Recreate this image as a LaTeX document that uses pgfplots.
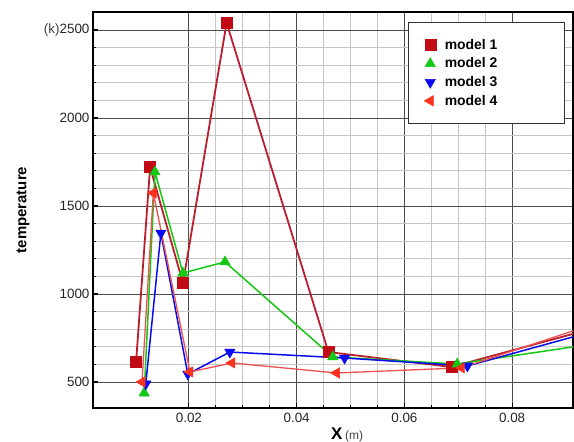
\documentclass[border=0pt]{standalone}
\usepackage{pgfplots}
\pgfplotsset{compat=1.18}
\usepackage{fontspec}
\setmainfont{Liberation Sans}
\definecolor{mone}{RGB}{192,10,20}
\definecolor{monel}{RGB}{185,30,45}
\definecolor{mtwo}{RGB}{20,200,20}
\definecolor{mthree}{RGB}{10,10,240}
\definecolor{mfour}{RGB}{250,50,30}
\definecolor{mfourl}{RGB}{240,80,80}
\begin{document}
\begin{tikzpicture}
\begin{axis}[
  scale only axis, width=480bp, height=396bp,
  xmin=0.0022, xmax=0.0913, ymin=352, ymax=2602,
  scaled x ticks=false,
  xtick={0.02,0.04,0.06,0.08},
  xticklabels={0.02,0.04,0.06,0.08},
  minor x tick num=3,
  ytick={500,1000,1500,2000,2500},
  yticklabels={500,1000,1500,2000,{\color{black!75}(k)}2500},
  minor y tick num=4,
  grid=both,
  major grid style={black!70, line width=0.8bp},
  minor grid style={black!22, line width=0.8bp},
  axis line style={black, line width=1.6bp},
  tick align=inside, tick pos=left,
  major tick length=5bp, minor tick length=3bp,
  every tick/.style={black, line width=1.2bp},
  /pgf/number format/assume math mode=true,
  tick label style={font=\fontsize{13.5}{14}\selectfont, text=black!85},
  xticklabel style={yshift=-2bp},
  ylabel={\bfseries temperature},
  ylabel style={font=\fontsize{15}{16}\selectfont, at={(axis description cs:0,0.5)}, anchor=south, yshift=60bp},
  xlabel={{\fontsize{17}{18}\selectfont\bfseries X} {\fontsize{12}{13}\selectfont\color{black!75}(m)}},
  xlabel style={at={(axis description cs:0.5,0)}, anchor=north, yshift=-16bp, xshift=14bp},
  legend image code/.code={\draw[#1] plot[only marks] coordinates {(0.1cm,0cm)};},
  legend style={at={(rel axis cs:0.656,0.975)}, anchor=north west, draw=black!80, line width=0.8bp, fill=white,
    font=\fontsize{14}{15}\selectfont\bfseries, inner xsep=16bp, inner ysep=15bp, row sep=3bp,
    /tikz/every odd column/.append style={column sep=7bp}},
  legend cell align=left,
  clip=true,
]
\addplot[color=monel, line width=1.8bp, mark=square*, mark size=5.5bp, mark options={fill=mone, draw=mone, line width=0.5bp}, mark indices={1,2,3,4,5,6}]
coordinates {(0.0102,614) (0.0128,1721) (0.0189,1062) (0.0270,2540) (0.0459,670) (0.0687,585) (0.0913,773)};
\addlegendentry{model 1\hspace*{49bp}}
\addplot[color=mtwo, line width=1.5bp, mark=triangle*, mark size=6bp, mark options={fill=mtwo, draw=mtwo, line width=0.5bp}, mark indices={1,2,3,4,5,6}]
coordinates {(0.0117,437) (0.0137,1693) (0.0189,1119) (0.0267,1182) (0.0467,642) (0.0698,602) (0.0913,699)};
\addlegendentry{model 2}
\addplot[color=mthree, line width=1.5bp, mark=triangle*, mark size=6bp, mark options={fill=mthree, draw=mthree, rotate=180, line width=0.5bp}, mark indices={1,2,3,4,5,6}]
coordinates {(0.0120,489) (0.0148,1346) (0.0198,545) (0.0276,670) (0.0489,636) (0.0717,591) (0.0913,756)};
\addlegendentry{model 3}
\addplot[color=mfourl, line width=1.3bp, mark=triangle*, mark size=6bp, mark options={fill=mfour, draw=mfour, rotate=90, line width=0.5bp}, mark indices={1,2,3,4,5,6}]
coordinates {(0.0113,500) (0.0134,1574) (0.0202,557) (0.0280,608) (0.0474,551) (0.0706,580) (0.0913,790)};
\addlegendentry{model 4\rule[-18bp]{0pt}{1bp}}
\end{axis}
\pgfresetboundingbox
\path[use as bounding box] ([shift={(-93bp,-34bp)}]current axis.south west) rectangle ([shift={(1bp,12bp)}]current axis.north east);
\end{tikzpicture}
\end{document}
